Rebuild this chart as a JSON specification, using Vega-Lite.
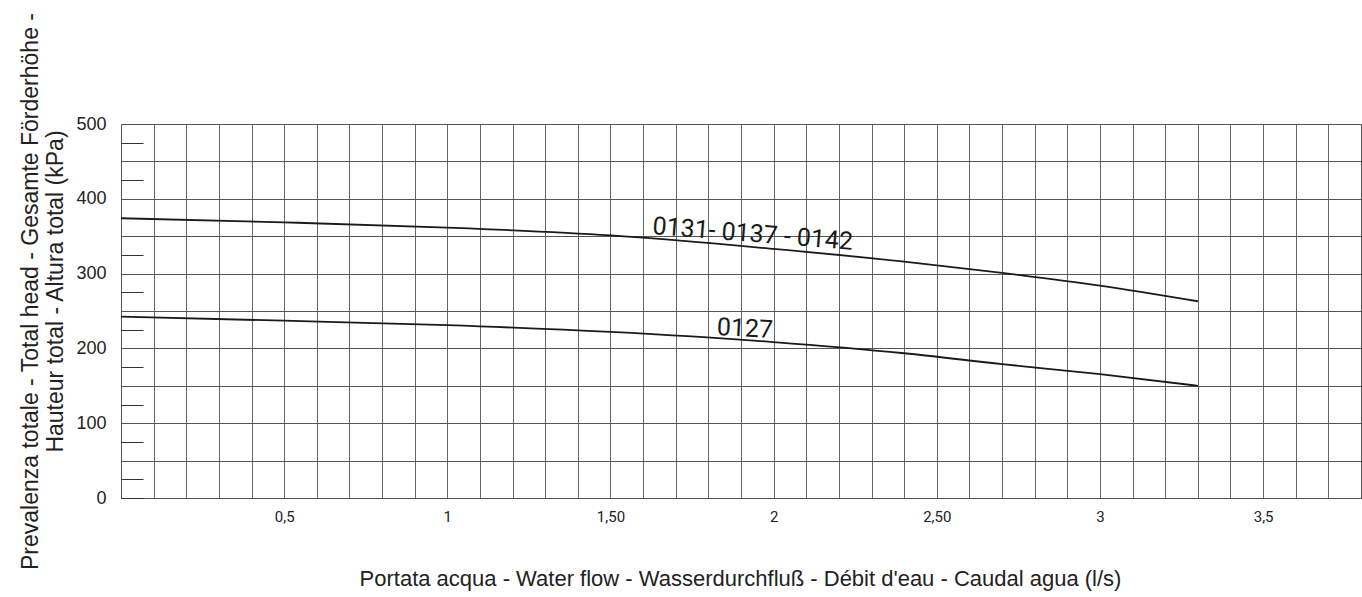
{
  "$schema": "https://vega.github.io/schema/vega-lite/v6.json",
  "width": 1240,
  "height": 374,
  "autosize": {"type": "none"},
  "padding": {"left": 121, "top": 124, "right": 1, "bottom": 99},
  "background": "white",
  "config": {
    "view": {"stroke": "#555", "strokeWidth": 1},
    "axis": {"domain": false}
  },
  "datasets": {
    "curves": [
      {"model": "0131-0137-0142", "flow": 0.0, "head": 374},
      {"model": "0131-0137-0142", "flow": 0.5, "head": 368.5},
      {"model": "0131-0137-0142", "flow": 1.0, "head": 361.5},
      {"model": "0131-0137-0142", "flow": 1.5, "head": 351},
      {"model": "0131-0137-0142", "flow": 2.0, "head": 333},
      {"model": "0131-0137-0142", "flow": 2.4, "head": 316},
      {"model": "0131-0137-0142", "flow": 2.7, "head": 301},
      {"model": "0131-0137-0142", "flow": 3.0, "head": 284},
      {"model": "0131-0137-0142", "flow": 3.3, "head": 263},
      {"model": "0127", "flow": 0.0, "head": 242.5},
      {"model": "0127", "flow": 0.5, "head": 237},
      {"model": "0127", "flow": 1.0, "head": 231},
      {"model": "0127", "flow": 1.5, "head": 222},
      {"model": "0127", "flow": 2.0, "head": 208.5},
      {"model": "0127", "flow": 2.4, "head": 193.5},
      {"model": "0127", "flow": 2.7, "head": 179},
      {"model": "0127", "flow": 3.0, "head": 165.5},
      {"model": "0127", "flow": 3.3, "head": 150}
    ],
    "labels": [
      {"model": "0131-0137-0142", "text": "0131- 0137 - 0142", "flow": 1.627, "head": 353},
      {"model": "0127", "text": "0127", "flow": 1.825, "head": 218}
    ]
  },
  "layer": [
    {
      "data": {"name": "curves"},
      "mark": {"type": "line", "color": "#1a1a1a", "strokeWidth": 1.8, "interpolate": "monotone"},
      "encoding": {
        "x": {
          "field": "flow", "type": "quantitative",
          "scale": {"domain": [0, 3.8], "nice": false, "zero": false},
          "axis": {
            "orient": "bottom", "title": null, "labels": false, "ticks": false,
            "grid": true, "gridColor": "#666", "gridWidth": 1, "gridOpacity": 1,
            "values": [0.1,0.2,0.3,0.4,0.5,0.6,0.7,0.8,0.9,1.0,1.1,1.2,1.3,1.4,1.5,1.6,1.7,1.8,1.9,2.0,2.1,2.2,2.3,2.4,2.5,2.6,2.7,2.8,2.9,3.0,3.1,3.2,3.3,3.4,3.5,3.6,3.7]
          }
        },
        "y": {
          "field": "head", "type": "quantitative",
          "scale": {"domain": [0, 500], "nice": false},
          "axis": {
            "orient": "left", "title": null, "ticks": false,
            "grid": true, "gridColor": "#555", "gridWidth": 1, "gridOpacity": 1,
            "values": [0,50,100,150,200,250,300,350,400,450,500],
            "labelExpr": "datum.value % 100 == 0 ? datum.label : ''",
            "labelFont": "Liberation Sans", "labelFontSize": 18, "labelColor": "#222",
            "labelPadding": 15
          }
        },
        "detail": {"field": "model"}
      }
    },
    {
      "data": {"name": "labels"},
      "transform": [{"filter": "datum.model == '0131-0137-0142'"}],
      "mark": {"type": "text", "align": "left", "baseline": "alphabetic", "angle": 4.5, "font": "Roboto", "fontSize": 25, "color": "#1a1a1a"},
      "encoding": {
        "x": {
          "field": "flow", "type": "quantitative",
          "axis": {
            "orient": "bottom", "grid": false, "ticks": false,
            "values": [0.5, 1, 1.5, 2, 2.5, 3, 3.5],
            "labelExpr": "datum.value == 0.5 ? '0,5' : datum.value == 1.5 ? '1,50' : datum.value == 2.5 ? '2,50' : datum.value == 3.5 ? '3,5' : format(datum.value, 'd')",
            "labelFont": "Roboto", "labelFontSize": 15, "labelColor": "#222", "labelPadding": 11,
            "title": "Portata acqua - Water flow - Wasserdurchfluß - Débit d'eau - Caudal agua (l/s)",
            "titleFont": "Liberation Sans", "titleFontSize": 22, "titleFontWeight": "normal", "titleColor": "#222",
            "titleX": 619, "titleY": 87, "titleAlign": "center", "titleBaseline": "alphabetic"
          }
        },
        "y": {
          "field": "head", "type": "quantitative",
          "axis": {
            "orient": "left", "grid": false, "labels": false, "ticks": true,
            "tickSize": -22, "tickColor": "#333", "tickWidth": 1,
            "values": [0,25,75,125,175,225,275,325,375,425,475],
            "title": ["Prevalenza totale - Total head - Gesamte Förderhöhe -", "Hauteur total - Altura total (kPa)"],
            "titleFont": "Liberation Sans", "titleFontSize": 23, "titleFontWeight": "normal", "titleColor": "#222",
            "titleAngle": -90, "titleX": -91, "titleY": 167, "titleAlign": "center", "titleBaseline": "middle", "titleLineHeight": 25
          }
        },
        "text": {"field": "text"}
      }
    },
    {
      "data": {"name": "labels"},
      "transform": [{"filter": "datum.model == '0127'"}],
      "mark": {"type": "text", "align": "left", "baseline": "alphabetic", "angle": 3, "font": "Roboto", "fontSize": 25, "color": "#1a1a1a"},
      "encoding": {
        "x": {"field": "flow", "type": "quantitative", "axis": null},
        "y": {"field": "head", "type": "quantitative", "axis": null},
        "text": {"field": "text"}
      }
    }
  ],
  "resolve": {"axis": {"x": "independent", "y": "independent"}}
}
